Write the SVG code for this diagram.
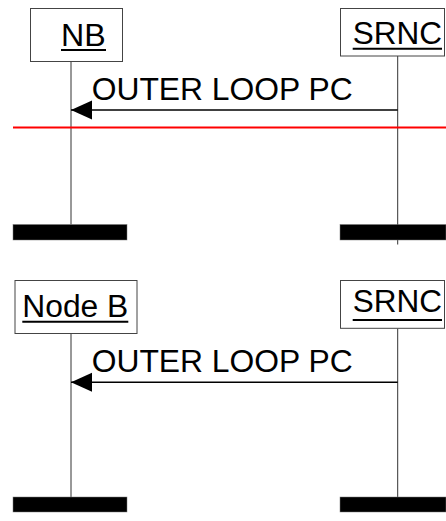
<svg xmlns="http://www.w3.org/2000/svg" width="446" height="521" viewBox="0 0 446 521">
<style>
.box{fill:#fff;stroke:#444;stroke-width:1}
.life{stroke:#333;stroke-width:1}
.t{font-family:"Liberation Sans",Arial,sans-serif;font-size:31px;fill:#000}
.ul{stroke:#000;stroke-width:2}
.msg{stroke:#000;stroke-width:1.5;fill:none}
.bar{fill:#000;stroke:#777;stroke-width:0.5}
</style>
<defs>
<marker id="ah" markerUnits="userSpaceOnUse" markerWidth="22" markerHeight="20" refX="21" refY="10" orient="auto" viewBox="0 0 22 20">
<path d="M0,0.5 L21,10 L0,19.5 Z" fill="#000"/>
</marker>
</defs>
<g id="connectors">
<line class="life" x1="71" y1="61.5" x2="71" y2="224.5"/>
<line class="life" x1="397.7" y1="56" x2="397.7" y2="244.5"/>
<line class="life" x1="71" y1="333.5" x2="71" y2="497"/>
<line class="life" x1="397.7" y1="328.5" x2="397.7" y2="497"/>
<line class="msg" x1="397.7" y1="110" x2="71" y2="110" marker-end="url(#ah)"/>
<line class="msg" x1="397.7" y1="382.3" x2="71" y2="382.3" marker-end="url(#ah)"/>
</g>
<line id="separator" x1="13" y1="127.5" x2="446" y2="127.5" stroke="#ff0000" stroke-width="2"/>
<g id="nb1">
<rect class="box" x="30.5" y="8.5" width="92" height="53"/>
<text class="t" x="61" y="45.7" textLength="44.7" lengthAdjust="spacingAndGlyphs">NB</text>
<line class="ul" x1="61" y1="50" x2="106" y2="50"/>
</g>
<g id="srnc1">
<rect class="box" x="340.5" y="8.5" width="104" height="47.5"/>
<text class="t" x="352.7" y="44.3" textLength="89.3" lengthAdjust="spacingAndGlyphs">SRNC</text>
<line class="ul" x1="352.7" y1="48.7" x2="442" y2="48.7"/>
</g>
<text id="msg1" class="t" x="91.7" y="100" textLength="261" lengthAdjust="spacingAndGlyphs">OUTER LOOP PC</text>
<rect id="end-nb1" class="bar" x="13" y="224.5" width="114" height="15.5"/>
<rect id="end-srnc1" class="bar" x="340" y="224.5" width="106" height="15.5"/>
<g id="nodeb2">
<rect class="box" x="15" y="280.5" width="122" height="53"/>
<text class="t" x="22.3" y="317.3" textLength="106" lengthAdjust="spacingAndGlyphs">Node B</text>
<line class="ul" x1="22.3" y1="321.7" x2="128.3" y2="321.7"/>
</g>
<g id="srnc2">
<rect class="box" x="340.5" y="280.5" width="104" height="47.8"/>
<text class="t" x="352.7" y="312.3" textLength="89.3" lengthAdjust="spacingAndGlyphs">SRNC</text>
<line class="ul" x1="352.7" y1="320" x2="442" y2="320"/>
</g>
<text id="msg2" class="t" x="91.7" y="371.7" textLength="261" lengthAdjust="spacingAndGlyphs">OUTER LOOP PC</text>
<rect id="end-nb2" class="bar" x="13" y="497" width="114" height="15"/>
<rect id="end-srnc2" class="bar" x="340" y="497" width="106" height="15"/>
</svg>
